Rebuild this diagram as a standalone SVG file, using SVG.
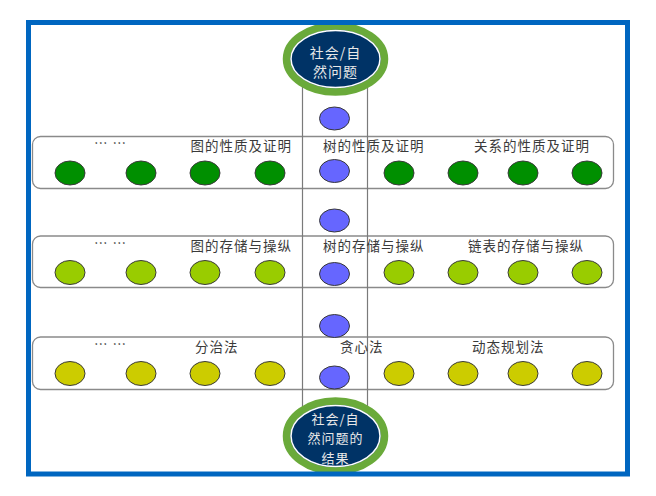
<svg xmlns="http://www.w3.org/2000/svg" width="656" height="496" viewBox="0 0 656 496">
<style>
.row{fill:none;stroke:#8a8a8a;stroke-width:1.3}
.col{fill:none;stroke:#7a7a7a;stroke-width:1.2}
.n{stroke:#3a3a3a;stroke-width:1}
.g{fill:#008f00}
.l{fill:#99cc00}
.y{fill:#cccc00}
.b{fill:#6666ff}
.t{font-family:"Noto Sans CJK SC","Noto Sans CJK JP",sans-serif;font-size:13.5px;fill:#3a3a3a;letter-spacing:1px}
.e{font-family:"Noto Sans CJK SC","Noto Sans CJK JP",sans-serif;font-size:14px;fill:#e8e8e8;text-anchor:middle;letter-spacing:1px}
.e2{font-size:13px}
</style>
<rect x="0" y="0" width="656" height="496" fill="#fff"/>
<g id="rows">
<rect class="row" x="32.5" y="136.5" width="581" height="52" rx="8"/>
<rect class="row" x="32.5" y="236" width="581" height="51.5" rx="8"/>
<rect class="row" x="32.5" y="337" width="581" height="52.5" rx="8"/>
</g>
<g id="connectors">
<rect class="col" x="302.5" y="80" width="65" height="330"/>
</g>
<g id="row1">
<text class="t" x="94" y="148">… …</text>
<text class="t" x="292" y="151" text-anchor="end">图的性质及证明</text>
<text class="t" x="323" y="151">树的性质及证明</text>
<text class="t" x="590" y="151" text-anchor="end">关系的性质及证明</text>
<ellipse class="n g" cx="70" cy="173" rx="15" ry="12"/>
<ellipse class="n g" cx="141" cy="173" rx="15" ry="12"/>
<ellipse class="n g" cx="205" cy="173" rx="15" ry="12"/>
<ellipse class="n g" cx="270" cy="173" rx="15" ry="12"/>
<ellipse class="n g" cx="399" cy="173" rx="15" ry="12"/>
<ellipse class="n g" cx="463" cy="173" rx="15" ry="12"/>
<ellipse class="n g" cx="523" cy="173" rx="15" ry="12"/>
<ellipse class="n g" cx="587" cy="173" rx="15" ry="12"/>
</g>
<g id="row2">
<text class="t" x="94" y="248">… …</text>
<text class="t" x="292" y="251" text-anchor="end">图的存储与操纵</text>
<text class="t" x="323" y="251">树的存储与操纵</text>
<text class="t" x="584" y="251" text-anchor="end">链表的存储与操纵</text>
<ellipse class="n l" cx="70" cy="272.5" rx="15" ry="12"/>
<ellipse class="n l" cx="141" cy="272.5" rx="15" ry="12"/>
<ellipse class="n l" cx="205" cy="272.5" rx="15" ry="12"/>
<ellipse class="n l" cx="270" cy="272.5" rx="15" ry="12"/>
<ellipse class="n l" cx="399" cy="272.5" rx="15" ry="12"/>
<ellipse class="n l" cx="463" cy="272.5" rx="15" ry="12"/>
<ellipse class="n l" cx="523" cy="272.5" rx="15" ry="12"/>
<ellipse class="n l" cx="587" cy="272.5" rx="15" ry="12"/>
</g>
<g id="row3">
<text class="t" x="94" y="349">… …</text>
<text class="t" x="195" y="352">分治法</text>
<text class="t" x="340" y="352">贪心法</text>
<text class="t" x="472" y="352">动态规划法</text>
<ellipse class="n y" cx="70" cy="373.5" rx="15" ry="12"/>
<ellipse class="n y" cx="141" cy="373.5" rx="15" ry="12"/>
<ellipse class="n y" cx="205" cy="373.5" rx="15" ry="12"/>
<ellipse class="n y" cx="270" cy="373.5" rx="15" ry="12"/>
<ellipse class="n y" cx="399" cy="373.5" rx="15" ry="12"/>
<ellipse class="n y" cx="463" cy="373.5" rx="15" ry="12"/>
<ellipse class="n y" cx="523" cy="373.5" rx="15" ry="12"/>
<ellipse class="n y" cx="587" cy="373.5" rx="15" ry="12"/>
</g>
<g id="center">
<ellipse class="n b" cx="334.5" cy="118.5" rx="15" ry="11.5"/>
<ellipse class="n b" cx="334.5" cy="171" rx="15" ry="11.5"/>
<ellipse class="n b" cx="334.5" cy="220.5" rx="15" ry="11.5"/>
<ellipse class="n b" cx="334.5" cy="274" rx="15" ry="11.5"/>
<ellipse class="n b" cx="334.5" cy="326" rx="15" ry="11.5"/>
<ellipse class="n b" cx="334.5" cy="377.5" rx="15" ry="11.5"/>
</g>
<g id="top">
<ellipse cx="335.5" cy="59" rx="49" ry="33" fill="#003366" stroke="#6aaa3a" stroke-width="7.5"/>
<ellipse cx="335.5" cy="59" rx="44.5" ry="28.5" fill="none" stroke="#fff" stroke-width="1.5"/>
<text class="e" x="335.5" y="58">社会/自</text>
<text class="e" x="335.5" y="77">然问题</text>
</g>
<g id="bottom">
<ellipse cx="335.5" cy="436" rx="49" ry="35" fill="#003366" stroke="#6aaa3a" stroke-width="7.5"/>
<ellipse cx="335.5" cy="436" rx="44.5" ry="30.5" fill="none" stroke="#fff" stroke-width="1.5"/>
<text class="e e2" x="335.5" y="423.5">社会/自</text>
<text class="e e2" x="335.5" y="443">然问题的</text>
<text class="e e2" x="335.5" y="462.5">结果</text>
</g>
<rect x="28.5" y="22.5" width="599" height="451.5" fill="none" stroke="#0066c0" stroke-width="5"/>
</svg>
